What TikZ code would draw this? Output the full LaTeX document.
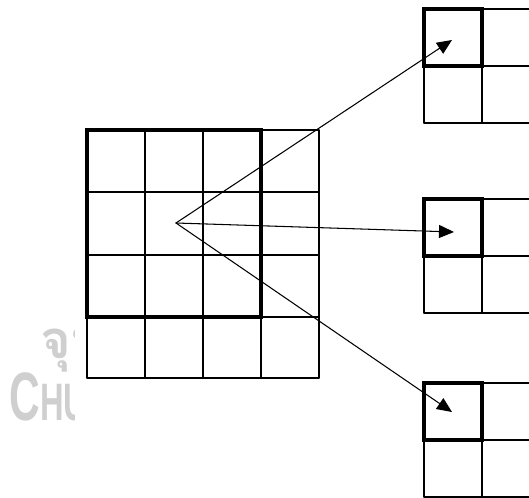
\documentclass[tikz,border=0pt]{standalone}
\usepackage{fontspec}
\newfontfamily\thaifont[Script=Thai]{Loma}
\newfontfamily\wmfont{Liberation Sans}
\usetikzlibrary{arrows.meta}
\begin{document}
\begin{tikzpicture}[x=0.02cm, y=-0.02cm, line cap=round, line join=round,
		>={Triangle[length=0.3cm,width=0.26cm]},
		cell/.style={line width=0.7pt},
		window/.style={line width=2.5pt, line cap=butt, line join=miter},
		mark wm/.style={text=black!19, inner sep=0pt, anchor=base west}]
	\clip (0,0) rectangle (529,498);
	% faded watermark
	\begin{scope}
		\clip (0,0) rectangle (75,498);
		\node[mark wm] (wmthai) at (40,358) {\thaifont\bfseries\fontsize{30}{30}\selectfont จุฬาลงกรณ์};
		\node[mark wm] (wmlatin) at (9,420) {\scalebox{0.62}[1]{\wmfont\bfseries{\fontsize{39}{39}\selectfont C}\fontsize{30}{30}\selectfont HULALONGKORN}};
	\end{scope}
	\path (176,223) coordinate (O)
	(452,40) coordinate (T1) (454,232) coordinate (T2) (452,412) coordinate (T3);
	% input grid
	\foreach \x in {87,145,203,261,319} \draw[cell] (\x,130) -- (\x,378);
	\foreach \y in {130,192,255,317,378} \draw[cell] (87,\y) -- (319,\y);
	\draw[window] (87,130) rectangle (261,317);
	% output grids
	\foreach \t in {9,199,383}{
		\foreach \x in {424,482,540} \draw[cell] (\x,\t) -- (\x,\t+114);
		\foreach \y in {0,57,114} \draw[cell] (424,\t+\y) -- (540,\t+\y);
		\draw[window] (424,\t) rectangle (482,\t+57);
	}
	\foreach \p in {T1,T2,T3} \draw[->, line width=0.6pt] (O) -- (\p);
\end{tikzpicture}
\end{document}
